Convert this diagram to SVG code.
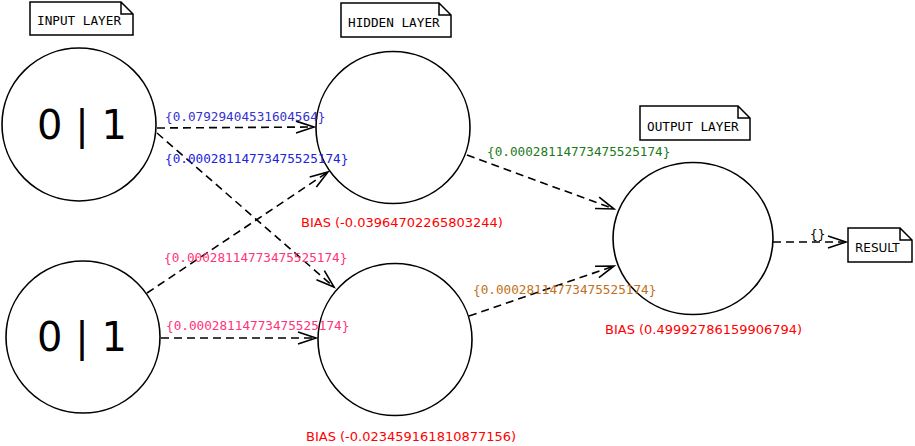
<svg xmlns="http://www.w3.org/2000/svg" width="915" height="446" viewBox="0 0 915 446">
<style>
.node{fill:#fff;stroke:#000;stroke-width:1.6}
.big{font-family:"DejaVu Sans",sans-serif;font-size:40px;fill:#000;text-anchor:middle}
.note{fill:#fff;stroke:#000;stroke-width:1.5}
.nt{font-family:"DejaVu Sans Mono",monospace;font-size:12.7px;fill:#000}
.edge{fill:none;stroke:#000;stroke-width:1.6;stroke-dasharray:8,5}
.el{font-family:"DejaVu Sans Mono",monospace;font-size:12.7px}
.bias{font-family:"DejaVu Sans",sans-serif;font-size:13px;fill:#ff0000}
</style>
<defs>
<marker id="arr" markerUnits="userSpaceOnUse" markerWidth="24" markerHeight="16" viewBox="-20 -8 22 16" refX="0" refY="0" orient="auto">
<path d="M-18,-6 L0,0 L-18,6" fill="none" stroke="#000" stroke-width="1.6"/>
</marker>
</defs>
<g id="note-input">
<path class="note" d="M30,2 H121 L133,14 V35 H30 Z M121,2 V14 H133"/>
<text class="nt" x="37" y="25">INPUT LAYER</text>
</g>
<g id="note-hidden">
<path class="note" d="M341,3 H439 L451,15 V37 H341 Z M439,3 V15 H451"/>
<text class="nt" x="348" y="27">HIDDEN LAYER</text>
</g>
<g id="note-output">
<path class="note" d="M640,106 H738 L750,118 V140 H640 Z M738,106 V118 H750"/>
<text class="nt" x="647" y="131">OUTPUT LAYER</text>
</g>
<g id="note-result">
<path class="note" d="M848,228 H900 L912,240 V262 H848 Z M900,228 V240 H912"/>
<text x="855" y="252" style="font-family:'DejaVu Sans',sans-serif;font-size:12px;fill:#000">RESULT</text>
</g>
<g id="input1">
<ellipse class="node" cx="79" cy="124.5" rx="77" ry="76.5"/>
<text class="big" x="82" y="139">0 | 1</text>
</g>
<g id="input2">
<ellipse class="node" cx="83" cy="337" rx="77" ry="76"/>
<text class="big" x="82" y="351">0 | 1</text>
</g>
<g id="hidden1">
<ellipse class="node" cx="393" cy="127.5" rx="77" ry="76"/>
<text class="bias" x="301" y="227">BIAS (-0.03964702265803244)</text>
</g>
<g id="hidden2">
<ellipse class="node" cx="395" cy="339.5" rx="77" ry="76"/>
<text class="bias" x="306" y="441">BIAS (-0.023459161810877156)</text>
</g>
<g id="output">
<ellipse class="node" cx="693" cy="238.5" rx="80" ry="76"/>
<text class="bias" x="605" y="334">BIAS (0.49992786159906794)</text>
</g>
<g id="edges">
<path class="edge" d="M157,128 L314,127" marker-end="url(#arr)"/>
<path class="edge" d="M157,133 L334,287" marker-end="url(#arr)"/>
<path class="edge" d="M147,293 L328,172" marker-end="url(#arr)"/>
<path class="edge" d="M161,338 L316,338" marker-end="url(#arr)"/>
<path class="edge" d="M467,155 L614,209" marker-end="url(#arr)"/>
<path class="edge" d="M469,316 L614,266" marker-end="url(#arr)"/>
<path class="edge" d="M773,242 L846,242" marker-end="url(#arr)"/>
<text class="el" x="165" y="121" fill="#3333cc">{0.07929404531604564}</text>
<text class="el" x="165" y="163" fill="#2222dd">{0.00028114773475525174}</text>
<text class="el" x="164" y="262" fill="#ff3377">{0.00028114773475525174}</text>
<text class="el" x="166" y="330" fill="#ff3377">{0.00028114773475525174}</text>
<text class="el" x="487" y="156" fill="#1a7a1a">{0.00028114773475525174}</text>
<text class="el" x="473" y="294" fill="#c07020">{0.00028114773475525174}</text>
<text class="el" x="810" y="238" fill="#000">{}</text>
</g>
</svg>
